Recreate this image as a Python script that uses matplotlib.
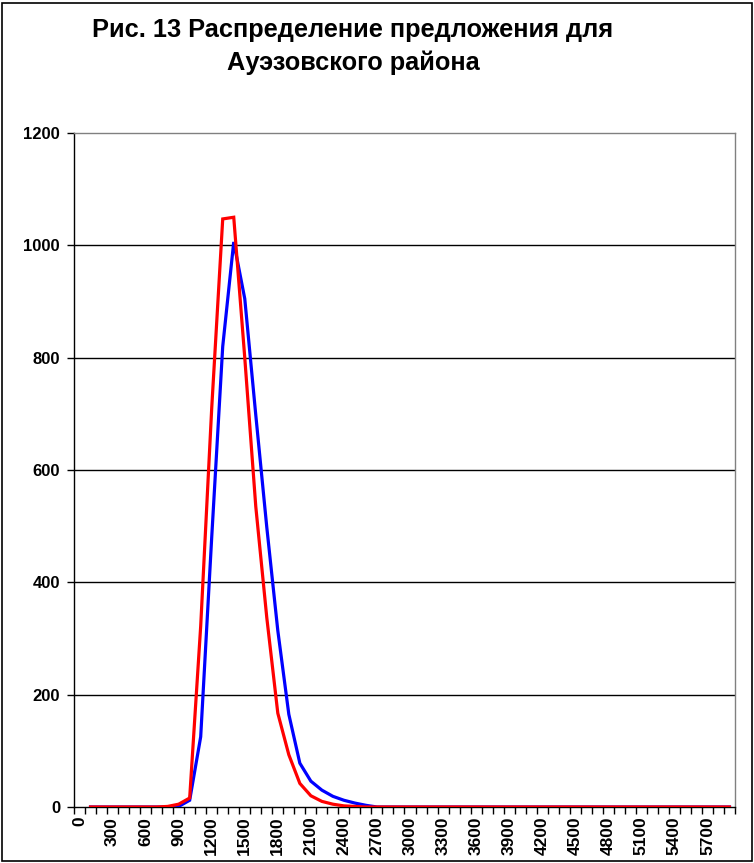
import numpy as np
import matplotlib
matplotlib.use("Agg")
import matplotlib.pyplot as plt
from matplotlib.patches import Rectangle

plt.rcParams['font.family'] = ['Liberation Sans', 'DejaVu Sans']

title_line1 = "Рис. 13 Распределение предложения для"
title_line2 = "Ауэзовского района"

categories = [0, 100, 200, 300, 400, 500, 600, 700, 800, 900,
              1000, 1100, 1200, 1300, 1400, 1500, 1600, 1700, 1800, 1900,
              2000, 2100, 2200, 2300, 2400, 2500, 2600, 2700, 2800, 2900,
              3000, 3100, 3200, 3300, 3400, 3500, 3600, 3700, 3800, 3900,
              4000, 4100, 4200, 4300, 4400, 4500, 4600, 4700, 4800, 4900,
              5000, 5100, 5200, 5300, 5400, 5500, 5600, 5700, 5800, 5900]

nan = float('nan')
blue_values = [nan, 0, 0, 0, 0, 0, 0, 0, 0, 1,
               12, 125, 480, 820, 1006, 905, 698, 498, 314, 165,
               78, 46, 30, 19, 12, 7, 3, 0, 0, 0,
               0, 0, 0, 0, 0, 0, 0, 0, 0, 0,
               0, 0, 0, 0, 0, 0, 0, 0, 0, 0,
               0, 0, 0, 0, 0, 0, 0, 0, 0, 0]

red_values = [nan, 0, 0, 0, 0, 0, 0, 0, 1, 5,
              16, 322, 710, 1047, 1050, 800, 535, 337, 167, 93,
              42, 20, 10, 5, 2, 1, 0, 0, 0, 0,
              0, 0, 0, 0, 0, 0, 0, 0, 0, 0,
              0, 0, 0, 0, 0, 0, 0, 0, 0, 0,
              0, 0, 0, 0, 0, 0, 0, 0, 0, 0]

y_ticks = [0, 200, 400, 600, 800, 1000, 1200]

fig = plt.figure(figsize=(7.54, 8.63), dpi=100)
ax = fig.add_axes([74/754, 56/863, 661/754, 674/863])

x = np.arange(len(categories))
ax.plot(x, blue_values, color='#0000FF', lw=2.3, solid_joinstyle='miter', zorder=3)
ax.plot(x, red_values, color='#FF0000', lw=2.3, solid_joinstyle='miter', zorder=4)

ax.set_xlim(-0.5, len(categories) - 0.5)
ax.set_ylim(0, 1200)
ax.set_yticks(y_ticks)
ax.set_yticklabels([str(v) for v in y_ticks], fontsize=12, fontweight='bold')
for v in y_ticks[1:-1]:
    ax.axhline(v, color='black', lw=1.0, zorder=1)

major = x[::3]
ax.set_xticks(major)
ax.set_xticklabels([str(categories[i]) for i in major], rotation=90,
                   fontsize=12.5, fontweight='bold')
ax.set_xticks(np.arange(-0.5, len(categories), 1.0), minor=True)
ax.tick_params(axis='x', which='major', length=0, pad=7)
ax.tick_params(axis='x', which='minor', length=5, width=1, color='black', direction='out')
ax.tick_params(axis='y', length=5, width=1, color='black', direction='out', pad=5)

for side in ['left', 'bottom']:
    ax.spines[side].set_color('black')
    ax.spines[side].set_linewidth(1)
for side in ['top', 'right']:
    ax.spines[side].set_color('#808080')
    ax.spines[side].set_linewidth(1)

fig.text(353/754, 1 - 30/863, title_line1,
         ha='center', va='center', fontsize=18.3, fontweight='bold')
fig.text(353/754, 1 - 63/863, title_line2,
         ha='center', va='center', fontsize=18.3, fontweight='bold')

fig.patches.append(Rectangle((2/754, 2/863), 750/754, 858/863, transform=fig.transFigure,
                             fill=False, edgecolor='black', lw=1.2))

fig.savefig("out.png", dpi=100)
